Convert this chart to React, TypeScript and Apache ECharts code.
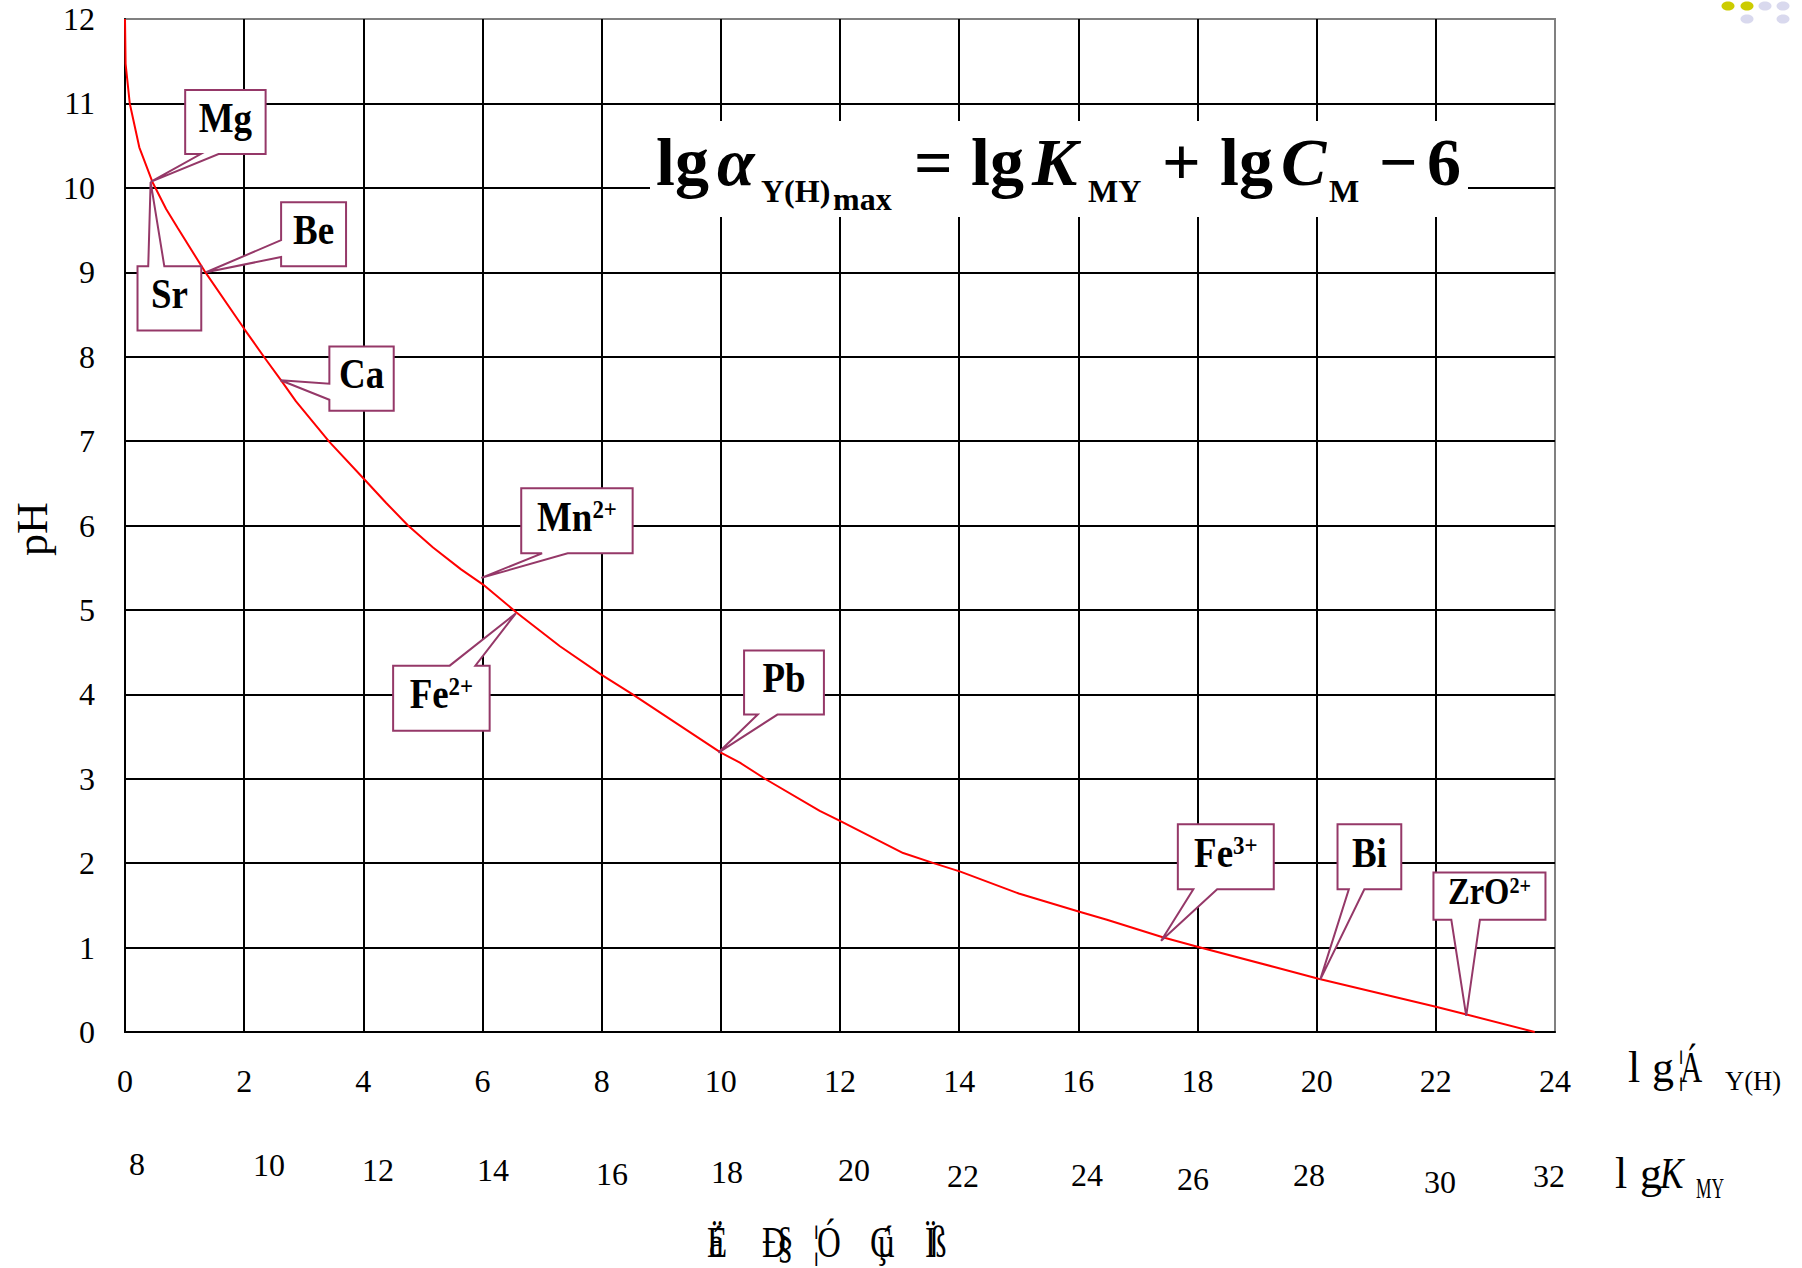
import React, { useEffect, useRef } from 'react';
import * as echarts from 'echarts';

// ---- Data ----
const LG_ALPHA = [0, 0.01, 0.08, 0.24, 0.46, 0.69, 0.88, 1.33, 2.0, 2.34, 2.62, 2.87, 3.43, 4.0, 4.38, 4.75, 5.17, 5.64, 6.01, 6.57, 7.3, 8.0, 8.52, 10.0, 10.32, 10.74, 11.66, 12.0, 13.06, 13.57, 14.02, 15.0, 15.99, 16.48, 17.43, 18.0, 19.29, 20.03, 22.0, 22.5, 23.66];
const PH = [12, 11.47, 11.0, 10.48, 10.07, 9.75, 9.53, 9.02, 8.33, 7.99, 7.72, 7.47, 6.99, 6.56, 6.27, 6.0, 5.74, 5.48, 5.3, 4.97, 4.57, 4.23, 4.0, 3.31, 3.19, 3.0, 2.62, 2.5, 2.12, 2.0, 1.9, 1.64, 1.43, 1.33, 1.12, 1.01, 0.77, 0.63, 0.3, 0.21, 0];

const ION_NAMES = ['Mg', 'Sr', 'Be', 'Ca', 'Mn', 'Fe', 'Pb', 'Fe', 'Bi', 'ZrO'];
const ION_CHARGES = ['', '', '', '', '2+', '2+', '', '3+', '', '2+'];
const ION_LG_ALPHA = [0.43, 0.43, 1.36, 2.61, 5.98, 6.56, 9.96, 17.39, 20.06, 22.51];
const ION_PH = [10.07, 10.07, 9.0, 7.72, 5.38, 4.96, 3.31, 1.08, 0.62, 0.19];

const LG_KMY_LABELS = ['8', '10', '12', '14', '16', '18', '20', '22', '24', '26', '28', '30', '32'];

// ---- Layout (callout boxes in axis units) ----
const CALLOUT_LAYOUT = [
  { box: [1.01, 11.16, 2.36, 10.4], side: 'bottom', wedge: [1.27, 1.57], fs: 42 },
  { box: [0.21, 9.07, 1.28, 8.31], side: 'top', wedge: [0.39, 0.66], fs: 42 },
  { box: [2.62, 9.83, 3.71, 9.07], side: 'left', wedge: [9.38, 9.18], fs: 42 },
  { box: [3.43, 8.12, 4.51, 7.36], side: 'left', wedge: [7.68, 7.49], fs: 42 },
  { box: [6.65, 6.44, 8.52, 5.67], side: 'bottom', wedge: [7.0, 7.43], fs: 42 },
  { box: [4.5, 4.34, 6.12, 3.57], side: 'top', wedge: [5.45, 5.88], fs: 42 },
  { box: [10.39, 4.52, 11.73, 3.76], side: 'bottom', wedge: [10.62, 10.95], fs: 42 },
  { box: [17.67, 2.46, 19.28, 1.69], side: 'bottom', wedge: [17.93, 18.33], fs: 42 },
  { box: [20.35, 2.46, 21.42, 1.69], side: 'bottom', wedge: [20.54, 20.8], fs: 42 },
  { box: [21.96, 1.89, 23.84, 1.33], side: 'bottom', wedge: [22.26, 22.74], fs: 37 },
];

const KMY_POS = [
  [137, 1164], [269, 1165], [378, 1170], [493, 1170], [612, 1174], [727, 1172], [854, 1170],
  [963, 1176], [1087, 1175], [1193, 1179], [1309, 1175], [1440, 1182], [1549, 1176],
];

const SERIF = 'Liberation Serif, Times New Roman, serif';
const PURPLE = '#953868';

function txt(x: number, y: number, text: string, opts: any = {}) {
  return {
    type: 'text',
    x,
    y,
    scaleX: opts.scaleX ?? 1,
    rotation: opts.rotation ?? 0,
    z: 2,
    style: {
      text,
      fill: '#000',
      fontFamily: SERIF,
      fontSize: opts.fontSize ?? 32,
      fontWeight: opts.fontWeight ?? 'normal',
      fontStyle: opts.fontStyle ?? 'normal',
      align: opts.align ?? 'left',
      verticalAlign: 'middle',
    },
  };
}

// baseline -> middle y
const mid = (baseline: number, fs: number) => baseline - 0.3375 * fs;

export default function App() {
  const ref = useRef<HTMLDivElement>(null);
  useEffect(() => {
    document.body.style.margin = '0';
    if (!ref.current) return;
    const chart = echarts.init(ref.current, null, { renderer: 'svg' });

    const formula: any[] = [];
    const B = 185;
    const F = 68;
    const S = 32;
    const bold = { fontWeight: 'bold', fontSize: F };
    const sub = { fontWeight: 'bold', fontSize: S };
    formula.push(txt(656, mid(B, F), 'lg', bold));
    formula.push(txt(717, mid(B, F), 'α', { ...bold, fontStyle: 'italic' }));
    formula.push(txt(761, mid(202, S), 'Y(H)', sub));
    formula.push(txt(833, mid(210, S), 'max', sub));
    formula.push(txt(914, mid(B, F), '=', bold));
    formula.push(txt(971, mid(B, F), 'lg', bold));
    formula.push(txt(1032, mid(B, F), 'K', { ...bold, fontStyle: 'italic' }));
    formula.push(txt(1088, mid(202, S), 'MY', sub));
    formula.push(txt(1162, mid(B, F), '+', bold));
    formula.push(txt(1220, mid(B, F), 'lg', bold));
    formula.push(txt(1281, mid(B, F), 'C', { ...bold, fontStyle: 'italic' }));
    formula.push(txt(1329, mid(202, S), 'M', sub));
    formula.push(txt(1379, mid(B, F), '−', bold));
    formula.push(txt(1427, mid(B, F), '6', bold));

    const kmy = LG_KMY_LABELS.map((t, i) =>
      txt(KMY_POS[i][0], KMY_POS[i][1], t, { fontSize: 32, align: 'center' })
    );

    const titles: any[] = [
      // lg alpha Y(H) (garbled as in original)
      txt(1628, mid(1082, 44), 'l', { fontSize: 44 }),
      txt(1652, mid(1082, 44), 'g', { fontSize: 44 }),
      txt(1680, mid(1082, 44), 'Á', { fontSize: 44, scaleX: 0.7 }),
      txt(1678, mid(1082, 44), '¦', { fontSize: 44, scaleX: 0.7 }),
      txt(1725, mid(1090, 28), 'Y(H)', { fontSize: 28, scaleX: 0.95 }),
      // lg K MY
      txt(1615, mid(1188, 44), 'l', { fontSize: 44 }),
      txt(1640, mid(1188, 44), 'g', { fontSize: 44 }),
      txt(1660, mid(1188, 44), 'K', { fontSize: 44, fontStyle: 'italic', scaleX: 0.8 }),
      txt(1696, mid(1198, 30), 'MY', { fontSize: 30, scaleX: 0.58 }),
      // pH
      txt(32, 529, 'pH', { fontSize: 44, align: 'center', rotation: Math.PI / 2 }),
    ];

    const garbled = [
      ['Ë', 707], ['á', 709], ['Ð', 762], ['§', 777], ['¦', 813], ['Ó', 817],
      ['Ç', 870], ['ú', 878], ['Ï', 925], ['ß', 930],
    ].map(([t, x]) => txt(x as number, mid(1257, 44), t as string, { fontSize: 44, scaleX: 0.75 }));

    const dots = [
      [1728, 6, '#CCCC00'], [1747, 6, '#CCCC00'], [1765, 6, '#D9D9EE'], [1783, 6, '#D9D9EE'],
      [1747, 19, '#D9D9EE'], [1783, 19, '#D9D9EE'],
    ].map(([cx, cy, c]) => ({
      type: 'ellipse',
      z: 2,
      shape: { cx, cy, rx: 6.5, ry: 4.5 },
      style: { fill: c },
    }));

    const option: any = {
      animation: false,
      grid: {
        left: 125, top: 19, width: 1430, height: 1013,
        show: true, borderColor: '#808080', borderWidth: 2, backgroundColor: 'transparent',
      },
      xAxis: {
        type: 'value', min: 0, max: 24, interval: 2,
        axisLine: { show: true, onZero: false, lineStyle: { color: '#000', width: 2 } },
        axisTick: { show: false },
        axisLabel: { margin: 33, fontSize: 32, fontFamily: SERIF, color: '#000' },
        splitLine: { show: true, showMaxLine: false, lineStyle: { color: '#000', width: 2 } },
      },
      yAxis: {
        type: 'value', min: 0, max: 12, interval: 1,
        axisLine: { show: true, onZero: false, lineStyle: { color: '#000', width: 2 } },
        axisTick: { show: false },
        axisLabel: { margin: 30, fontSize: 32, fontFamily: SERIF, color: '#000' },
        splitLine: { show: true, showMaxLine: false, lineStyle: { color: '#000', width: 2 } },
      },
      series: [
        {
          type: 'line',
          data: LG_ALPHA.map((x, i) => [x, PH[i]]),
          symbol: 'none',
          showSymbol: false,
          lineStyle: { color: '#FF0000', width: 2 },
          z: 3,
          silent: true,
        },
        {
          type: 'custom',
          z: 5,
          clip: false,
          silent: true,
          data: ION_LG_ALPHA.map((x, i) => [x, ION_PH[i]]),
          renderItem: (params: any, api: any) => {
            const i = params.dataIndex;
            const c = CALLOUT_LAYOUT[i];
            const tip = api.coord([api.value(0), api.value(1)]);
            const [x0, y0] = api.coord([c.box[0], c.box[1]]);
            const [x1, y1] = api.coord([c.box[2], c.box[3]]);
            let pts: number[][];
            if (c.side === 'bottom') {
              const a = api.coord([c.wedge[0], 0])[0];
              const b = api.coord([c.wedge[1], 0])[0];
              pts = [[x0, y0], [x1, y0], [x1, y1], [b, y1], tip, [a, y1], [x0, y1]];
            } else if (c.side === 'top') {
              const a = api.coord([c.wedge[0], 0])[0];
              const b = api.coord([c.wedge[1], 0])[0];
              pts = [[x0, y0], [a, y0], tip, [b, y0], [x1, y0], [x1, y1], [x0, y1]];
            } else {
              const a = api.coord([0, c.wedge[0]])[1];
              const b = api.coord([0, c.wedge[1]])[1];
              pts = [[x0, y0], [x1, y0], [x1, y1], [x0, y1], [x0, b], tip, [x0, a]];
            }
            const name = ION_NAMES[i];
            const ch = ION_CHARGES[i];
            const text = ch ? `${name}{s|${ch}}` : name;
            return {
              type: 'group',
              children: [
                {
                  type: 'polygon',
                  shape: { points: pts },
                  style: { fill: '#fff', stroke: PURPLE, lineWidth: 2, lineJoin: 'miter' },
                },
                {
                  type: 'text',
                  x: (x0 + x1) / 2,
                  y: (y0 + y1) / 2 - 4,
                  scaleX: 0.88,
                  style: {
                    text,
                    fill: '#000',
                    fontFamily: SERIF,
                    fontWeight: 'bold',
                    fontSize: c.fs,
                    align: 'center',
                    verticalAlign: 'middle',
                    rich: {
                      s: {
                        fontFamily: SERIF,
                        fontWeight: 'bold',
                        fontSize: c.fs * 0.62,
                        verticalAlign: 'top',
                        fill: '#000',
                      },
                    },
                  },
                },
              ],
            };
          },
        },
      ],
      graphic: [
        {
          type: 'rect',
          z: 1,
          shape: { x: 650, y: 121, width: 818, height: 96 },
          style: { fill: '#fff' },
        },
        ...formula,
        ...kmy,
        ...titles,
        ...garbled,
        ...dots,
      ],
    };
    chart.setOption(option);
    return () => chart.dispose();
  }, []);
  return <div ref={ref} style={{ width: 1802, height: 1268 }} />;
}
